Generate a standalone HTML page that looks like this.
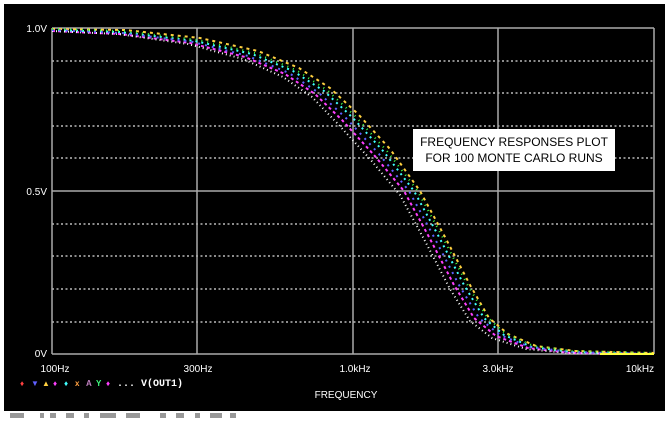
<!DOCTYPE html>
<html><head><meta charset="utf-8"><style>
body{margin:0;background:#fff;width:671px;height:422px;overflow:hidden}
svg{display:block;font-family:"Liberation Sans",Arial,sans-serif}
</style></head><body>
<svg width="671" height="422" viewBox="0 0 671 422">
<rect x="0" y="0" width="671" height="422" fill="#fff"/>
<rect x="4.5" y="4.5" width="660" height="406" fill="#000" stroke="#000" stroke-width="1"/>
<rect x="9" y="9" width="651" height="397" fill="#000"/>
<g stroke="#bbb" stroke-width="1.5" stroke-dasharray="2,2.5">
<line x1="52" y1="61" x2="654" y2="61"/><line x1="52" y1="93" x2="654" y2="93"/>
<line x1="52" y1="126" x2="654" y2="126"/><line x1="52" y1="158" x2="654" y2="158"/>
<line x1="52" y1="224" x2="654" y2="224"/><line x1="52" y1="256" x2="654" y2="256"/>
<line x1="52" y1="289" x2="654" y2="289"/><line x1="52" y1="322" x2="654" y2="322"/>
</g>
<g stroke="#aaa" stroke-width="1.5" fill="none">
<line x1="52" y1="191" x2="654" y2="191"/>
<line x1="52" y1="28" x2="654" y2="28"/>
<line x1="52" y1="354" x2="654" y2="354"/>
<line x1="52" y1="28" x2="52" y2="354"/>
<line x1="197" y1="28" x2="197" y2="354"/>
<line x1="353" y1="28" x2="353" y2="354"/>
<line x1="498" y1="28" x2="498" y2="354"/>
<line x1="654" y1="28" x2="654" y2="354"/>
</g>
<g fill="none" stroke-width="2">
<polyline stroke="#ff40ff" stroke-dasharray="3,3" points="52,31 120,34 190,43 245,57 285,74 315,94 342,120 374,155 404,191 429,237 454,285 474,318 496,336 528,348 570,353 654,354"/>
<polyline stroke="#40ffff" stroke-dasharray="2,4" points="52,30 120,32 195,41 252,54 293,71 324,91 352,117 384,152 414,191 439,237 464,285 484,318 504,335 532,347 572,352 654,354"/>
<polyline stroke="#ffd040" stroke-dasharray="3,4" points="52,29 125,30 200,38 258,51 299,68 330,88 358,114 390,149 420,191 445,237 470,285 489,318 508,334 536,346 575,351 654,353"/>
<polyline stroke="#fff" stroke-dasharray="1,3" points="52,31 118,34 188,44 243,59 283,77 312,97 338,124 370,159 400,195 425,241 450,289 470,321 492,338 526,349 568,353 654,354"/>
<polyline stroke="#6060ff" stroke-dasharray="2,5" points="52,30 122,33 193,42 248,56 289,73 319,93 347,119 379,154 409,191 434,237 459,285 479,318 500,335 530,347 570,352 654,354"/>
<polyline stroke="#40ff40" stroke-dasharray="1,5" points="52,29 123,31 198,40 255,53 296,70 327,90 355,116 387,151 417,190 442,236 467,284 487,317 506,334 534,346 573,351 654,353"/>
<polyline stroke="#ffff40" stroke-width="2" points="600,354 654,354"/>
</g>
<rect x="413" y="129" width="202" height="42" fill="#fff"/>
<text x="514" y="146" font-size="12" text-anchor="middle" fill="#000">FREQUENCY RESPONSES PLOT</text>
<text x="514" y="162" font-size="12" text-anchor="middle" fill="#000">FOR 100 MONTE CARLO RUNS</text>
<g fill="#fff" font-size="10">
<text x="47" y="32" text-anchor="end">1.0V</text>
<text x="47" y="195" text-anchor="end">0.5V</text>
<text x="47" y="357" text-anchor="end">0V</text>
<text x="55" y="372" text-anchor="middle">100Hz</text>
<text x="198" y="372" text-anchor="middle">300Hz</text>
<text x="355" y="372" text-anchor="middle">1.0kHz</text>
<text x="498" y="372" text-anchor="middle">3.0kHz</text>
<text x="640" y="372" text-anchor="middle">10kHz</text>
<text x="346" y="398" text-anchor="middle">FREQUENCY</text>
<text x="117" y="386" font-family="Liberation Mono,monospace" font-weight="bold" font-size="10">... V(OUT1)</text>
</g>
<g font-size="8" font-weight="bold">
<text x="20" y="386" fill="#ff4040">♦</text><text x="31" y="386" fill="#6060ff">▼</text>
<text x="42" y="386" fill="#ffd040">▲</text><text x="53" y="386" fill="#ff40ff">♦</text>
<text x="64" y="386" fill="#40ffff">♦</text><text x="75" y="386" fill="#ffa040">x</text>
<text x="86" y="386" fill="#c080c0">A</text><text x="96" y="386" fill="#40ff80">Y</text>
<text x="106" y="386" fill="#ff40ff">♦</text>
</g>
<g fill="#999">
<rect x="10" y="413" width="14" height="5"/><rect x="40" y="413" width="4" height="5"/><rect x="50" y="413" width="6" height="5"/>
<rect x="66" y="413" width="8" height="5"/><rect x="84" y="413" width="5" height="5"/><rect x="100" y="413" width="16" height="5"/>
<rect x="126" y="413" width="14" height="5"/><rect x="160" y="413" width="6" height="5"/><rect x="176" y="413" width="8" height="5"/>
<rect x="195" y="413" width="5" height="5"/><rect x="210" y="413" width="12" height="5"/><rect x="230" y="413" width="6" height="5"/>
</g>
</svg>
</body></html>
